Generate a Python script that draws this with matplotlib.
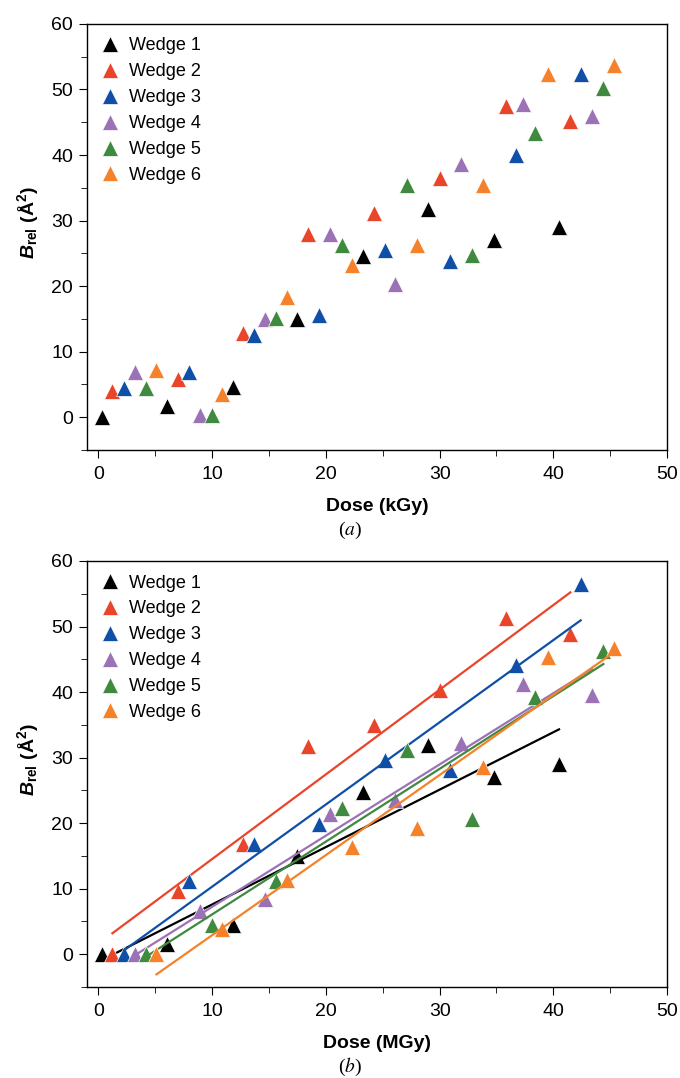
import numpy as np
import matplotlib
matplotlib.use("Agg")
import matplotlib.pyplot as plt
from matplotlib.ticker import MultipleLocator

plt.rcParams.update({"font.family": "Liberation Sans",
                     "font.size": 14,
                     "axes.linewidth": 1.0,
                     "xtick.direction": "out",
                     "ytick.direction": "out",
                     "xtick.major.size": 6,
                     "xtick.minor.size": 4,
                     "ytick.major.size": 6,
                     "ytick.minor.size": 4,
                     "xtick.major.pad": 5.5,
                     "ytick.major.pad": 4,
                     "mathtext.fontset": "custom",
                     "mathtext.rm": "Liberation Sans:bold",
                     "mathtext.it": "Liberation Sans:italic:bold",
                     "mathtext.bf": "Liberation Sans:bold"})

# Data
labels = ["Wedge 1", "Wedge 2", "Wedge 3", "Wedge 4", "Wedge 5", "Wedge 6"]
colors = ["#000000", "#e9452a", "#0f4fa8", "#9b72b6", "#3f8a3e", "#f5822a"]

dose_w1 = [0.3, 6.07, 11.8, 17.5, 23.3, 29.0, 34.8, 40.5]
dose_w2 = [1.23, 7.0, 12.68, 18.47, 24.2, 30.0, 35.8, 41.5]
dose_w3 = [2.26, 7.98, 13.68, 19.4, 25.2, 30.95, 36.7, 42.4]
dose_w4 = [3.2, 8.9, 14.65, 20.4, 26.1, 31.9, 37.35, 43.4]
dose_w5 = [4.17, 9.95, 15.6, 21.4, 27.1, 32.85, 38.4, 44.4]
dose_w6 = [5.1, 10.86, 16.56, 22.3, 28.0, 33.8, 39.55, 45.3]

# panel (a), dose in kGy
ba_w1 = [0.0, 1.7, 4.6, 15.0, 24.6, 31.8, 27.0, 29.0]
ba_w2 = [4.0, 5.8, 12.9, 27.9, 31.1, 36.5, 47.5, 45.2]
ba_w3 = [4.5, 6.9, 12.6, 15.6, 25.5, 23.9, 40.0, 52.3]
ba_w4 = [6.9, 0.3, 15.0, 27.9, 20.3, 38.6, 47.8, 46.0]
ba_w5 = [4.5, 0.4, 15.1, 26.3, 35.4, 24.7, 43.3, 50.3]
ba_w6 = [7.2, 3.5, 18.4, 23.2, 26.2, 35.5, 52.3, 53.7]

# panel (b), dose in MGy
bb_w1 = [0.0, 1.6, 4.4, 15.0, 24.7, 31.9, 27.1, 29.0]
bb_w2 = [0.0, 9.6, 16.8, 31.7, 35.0, 40.3, 51.3, 48.9]
bb_w3 = [0.0, 11.1, 16.8, 19.8, 29.6, 28.1, 44.2, 56.5]
bb_w4 = [0.0, 6.6, 8.4, 21.4, 23.6, 32.2, 41.2, 39.5]
bb_w5 = [0.0, 4.5, 11.1, 22.3, 31.1, 20.7, 39.2, 46.2]
bb_w6 = [0.0, 3.9, 11.4, 16.4, 19.3, 28.6, 45.3, 46.8]

doses = [dose_w1, dose_w2, dose_w3, dose_w4, dose_w5, dose_w6]
panel_a = [ba_w1, ba_w2, ba_w3, ba_w4, ba_w5, ba_w6]
panel_b = [bb_w1, bb_w2, bb_w3, bb_w4, bb_w5, bb_w6]

fig = plt.figure(figsize=(6.8, 10.78), dpi=100)
ax1 = fig.add_axes([0.128, 0.5826, 0.853, 0.3952])
ax2 = fig.add_axes([0.128, 0.0844, 0.853, 0.3952])


def style(ax, xlabel):
    ax.set_xlim(-1, 50)
    ax.set_ylim(-5, 60)
    ax.xaxis.set_major_locator(MultipleLocator(10))
    ax.xaxis.set_minor_locator(MultipleLocator(5))
    ax.yaxis.set_major_locator(MultipleLocator(10))
    ax.yaxis.set_minor_locator(MultipleLocator(5))
    ax.set_xlabel(xlabel, fontweight="bold", labelpad=11)
    ax.set_ylabel(r"$B_{\mathrm{rel}}$ (Å$^2$)", fontweight="bold")
    ax.yaxis.set_label_coords(-0.08, 0.533)
    ax.legend(loc="upper left", frameon=False, fontsize=13,
              handletextpad=0.6, labelspacing=0.49, borderaxespad=0.45,
              handlelength=1.0, borderpad=0.3)


for x, y, c, lab in zip(doses, panel_a, colors, labels):
    ax1.plot(x, y, ls="none", marker="^", ms=11.5, color=c,
             markeredgecolor="white", markeredgewidth=0.5, label=lab)
style(ax1, "Dose (kGy)")

for x, y, c, lab in zip(doses, panel_b, colors, labels):
    ax2.plot(x, y, ls="none", marker="^", ms=11.5, color=c,
             markeredgecolor="white", markeredgewidth=0.5, label=lab)
    # least-squares line over the wedge's dose range
    k, b = np.polyfit(x, y, 1)
    xf = np.array([x[0], x[-1]])
    ax2.plot(xf, k * xf + b, color=c, lw=1.6)
style(ax2, "Dose (MGy)")

fig.text(0.515, 0.5083, r"($\mathit{a}$)", family="Liberation Serif",
         math_fontfamily="stix", fontsize=14, ha="center", va="center")
fig.text(0.515, 0.0105, r"($\mathit{b}$)", family="Liberation Serif",
         math_fontfamily="stix", fontsize=14, ha="center", va="center")

plt.savefig("out.png", dpi=100)
